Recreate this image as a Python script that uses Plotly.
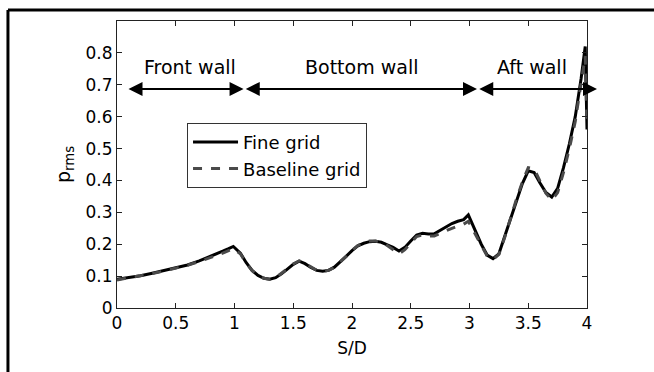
import plotly.graph_objects as go

# Surface coordinate along the cavity walls (S/D)
s_d = [0.0, 0.1, 0.2, 0.3, 0.4, 0.5, 0.6, 0.7, 0.8, 0.9, 0.95, 0.99, 1.05, 1.1, 1.15,
       1.2, 1.25, 1.3, 1.35, 1.4, 1.45, 1.5, 1.55, 1.6, 1.65, 1.7, 1.75, 1.8, 1.85,
       1.9, 1.95, 2.0, 2.05, 2.1, 2.15, 2.2, 2.25, 2.3, 2.35, 2.4, 2.45, 2.5, 2.55,
       2.6, 2.65, 2.7, 2.75, 2.8, 2.85, 2.9, 2.95, 2.99, 3.05, 3.1, 3.15, 3.2, 3.25,
       3.3, 3.35, 3.4, 3.45, 3.5, 3.55, 3.6, 3.65, 3.7, 3.75, 3.8, 3.85, 3.9, 3.95,
       3.985, 4.0]

# RMS pressure, fine grid
p_fine = [0.090, 0.095, 0.101, 0.109, 0.117, 0.125, 0.135, 0.148, 0.162, 0.178, 0.186, 0.193,
          0.172, 0.142, 0.118, 0.102, 0.093, 0.090, 0.095, 0.107, 0.122, 0.137, 0.147, 0.139,
          0.127, 0.118, 0.115, 0.118, 0.128, 0.144, 0.162, 0.180, 0.195, 0.203, 0.208, 0.209,
          0.206, 0.198, 0.190, 0.179, 0.190, 0.210, 0.229, 0.234, 0.232, 0.233, 0.243, 0.255,
          0.265, 0.272, 0.277, 0.292, 0.240, 0.200, 0.166, 0.155, 0.170, 0.225, 0.285, 0.340,
          0.390, 0.430, 0.425, 0.392, 0.362, 0.348, 0.375, 0.440, 0.515, 0.600, 0.720,
          0.820, 0.560]

# RMS pressure, baseline grid
p_base = [0.088, 0.094, 0.100, 0.108, 0.116, 0.124, 0.134, 0.146, 0.158, 0.172, 0.180, 0.186,
          0.170, 0.141, 0.117, 0.101, 0.093, 0.090, 0.095, 0.108, 0.123, 0.138, 0.148, 0.140,
          0.128, 0.118, 0.115, 0.118, 0.127, 0.143, 0.162, 0.181, 0.196, 0.205, 0.210, 0.210,
          0.205, 0.196, 0.184, 0.170, 0.183, 0.205, 0.224, 0.229, 0.226, 0.226, 0.233, 0.242,
          0.250, 0.256, 0.263, 0.272, 0.230, 0.195, 0.163, 0.152, 0.168, 0.222, 0.283, 0.342,
          0.395, 0.440, 0.436, 0.400, 0.360, 0.338, 0.362, 0.425, 0.500, 0.585, 0.700,
          0.790, 0.570]

x_ticks = [0, 0.5, 1, 1.5, 2, 2.5, 3, 3.5, 4]
x_tick_text = ["0", "0.5", "1", "1.5", "2", "2.5", "3", "3.5", "4"]
y_ticks = [0, 0.1, 0.2, 0.3, 0.4, 0.5, 0.6, 0.7, 0.8]
y_tick_text = ["0", "0.1", "0.2", "0.3", "0.4", "0.5", "0.6", "0.7", "0.8"]

# Wall regions: label, label centre, double-arrow tip positions
wall_names = ["Front wall", "Bottom wall", "Aft wall"]
wall_label_x = [0.62, 2.08, 3.53]
wall_label_y = 0.755
arrow_from = [0.085, 1.083, 3.07]
arrow_to = [1.077, 3.064, 4.085]
arrow_y = 0.687

FONT = "DejaVu Sans"

fig = go.Figure()
fig.add_trace(go.Scatter(x=s_d, y=p_fine, mode="lines", name="Fine grid",
                         line=dict(color="black", width=3)))
fig.add_trace(go.Scatter(x=s_d, y=p_base, mode="lines", name="Baseline grid",
                         line=dict(color="#4a4a4a", width=3, dash="dash")))

# Double-headed arrows marking each wall (filled heads)
HEAD_SCALE = 1.4
HEAD_WIDTH = 2
for name, lx, a0, a1 in zip(wall_names, wall_label_x, arrow_from, arrow_to):
    fig.add_annotation(x=a1, y=arrow_y, ax=a0, ay=arrow_y, xref="x", yref="y",
                       axref="x", ayref="y", text="", showarrow=True,
                       arrowhead=2, startarrowhead=2, arrowside="end+start",
                       arrowsize=HEAD_SCALE, startarrowsize=HEAD_SCALE,
                       arrowwidth=HEAD_WIDTH, arrowcolor="black",
                       standoff=0, startstandoff=0)
    fig.add_annotation(x=lx, y=wall_label_y, xref="x", yref="y", text=name,
                       showarrow=False, font=dict(family=FONT, size=19, color="black"))

# Outer frame (top and left edges)
fig.add_shape(type="line", xref="paper", yref="paper", x0=-0.232, x1=1.2,
              y0=1.038, y1=1.038, line=dict(color="black", width=3))
fig.add_shape(type="line", xref="paper", yref="paper", x0=-0.232, x1=-0.232,
              y0=1.038, y1=-0.3, line=dict(color="black", width=3))

axis_common = dict(showgrid=False, zeroline=False, showline=True, linecolor="#222",
                   linewidth=1, mirror="ticks", ticks="inside", ticklen=5,
                   tickcolor="#222", tickwidth=1,
                   tickfont=dict(family=FONT, size=17, color="black"))

fig.update_xaxes(range=[0, 4], tickvals=x_ticks, ticktext=x_tick_text,
                 title=dict(text="S/D", font=dict(family=FONT, size=17, color="black"),
                            standoff=9),
                 **axis_common)
fig.update_yaxes(range=[0, 0.9], tickvals=y_ticks, ticktext=y_tick_text,
                 title=dict(text="p<sub>rms</sub>",
                            font=dict(family=FONT, size=19, color="black"), standoff=9),
                 **axis_common)

fig.update_layout(
    width=654, height=372,
    margin=dict(l=117, r=67, t=21, b=64),
    paper_bgcolor="white", plot_bgcolor="white",
    legend=dict(x=0.149, y=0.645, xanchor="left", yanchor="top",
                bgcolor="white", bordercolor="#333", borderwidth=1,
                font=dict(family=FONT, size=18, color="black"),
                itemwidth=45, tracegroupgap=0),
)

fig.write_html("out.html")
